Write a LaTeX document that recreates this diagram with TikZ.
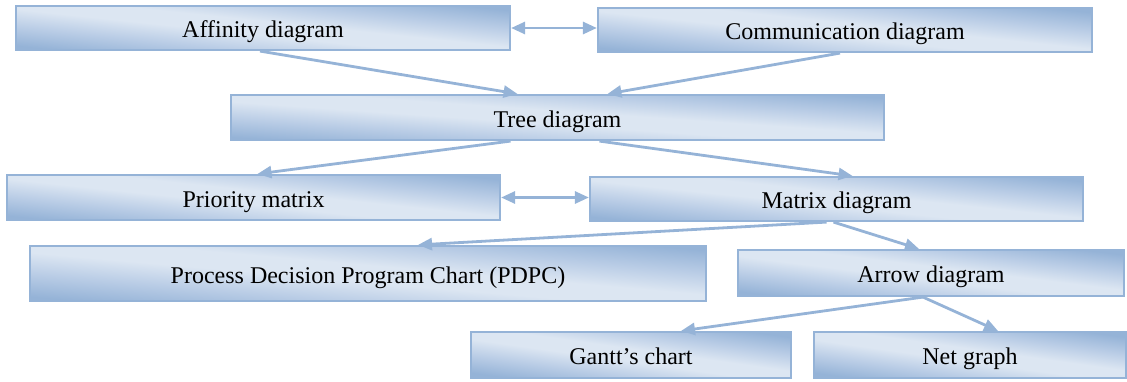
\documentclass[tikz,border=0pt]{standalone}
\usepackage{fontspec}
\setmainfont{Liberation Serif}
\usetikzlibrary{arrows.meta}
\definecolor{boxdark}{HTML}{95B3D7}
\definecolor{boxlight}{HTML}{DCE6F2}
\definecolor{boxmid}{HTML}{BACDE6}
\definecolor{linecol}{HTML}{95B3D7}
\pgfdeclareverticalshading{boxsh}{100bp}{color(0bp)=(boxdark); color(25bp)=(boxdark); color(36bp)=(boxmid); color(46bp)=(boxlight); color(54bp)=(boxlight); color(64bp)=(boxmid); color(75bp)=(boxdark); color(100bp)=(boxdark)}
\tikzset{
  box/.style={draw=linecol, line width=2.2pt, inner sep=0pt,
    shading=boxsh, shading angle=-6, text height=19pt, text depth=0pt,
    font=\fontsize{24}{28}\selectfont},
  conn/.style={draw=linecol, line width=2.8pt, -{Triangle[length=14pt,width=12pt]}},
  dconn/.style={draw=linecol, line width=2.8pt, {Triangle[length=14pt,width=12pt]}-{Triangle[length=14pt,width=12pt]}}
}
\begin{document}
\begin{tikzpicture}[x=1pt,y=-1pt]
\useasboundingbox (0,0) rectangle (1127,381);
\node[box, minimum width=494pt, minimum height=44pt] (aff) at (263,28) {Affinity diagram};
\node[box, minimum width=494pt, minimum height=44pt] (com) at (845,30) {Communication diagram};
\node[box, minimum width=653pt, minimum height=45pt, shading angle=-4] (tree) at (557.5,117.5) {Tree diagram};
\node[box, minimum width=493pt, minimum height=45pt] (pri) at (253.5,197.5) {Priority matrix};
\node[box, minimum width=493pt, minimum height=44pt] (mat) at (836.5,199) {Matrix diagram};
\node[box, minimum width=676pt, minimum height=55pt, shading angle=-5] (pdpc) at (368,273.5) {Process Decision Program Chart (PDPC)};
\node[box, minimum width=386pt, minimum height=46pt, shading angle=-7] (arr) at (931,273) {Arrow diagram};
\node[box, minimum width=320pt, minimum height=46pt, shading angle=-8] (gantt) at (631,355) {Gantt’s chart};
\node[box, minimum width=312pt, minimum height=46pt, shading angle=-8] (net) at (970,355) {Net graph};
\draw[dconn] (aff.east) -- (aff.east -| com.west);
\draw[dconn] (pri.east) -- (pri.east -| mat.west);
\draw[conn] ([xshift=-3pt]aff.south) -- ([xshift=-40pt]tree.north);
\draw[conn] ([xshift=-5pt]com.south) -- ([xshift=50pt]tree.north);
\draw[conn] ([xshift=-47pt]tree.south) -- ([xshift=4pt]pri.north);
\draw[conn] ([xshift=42pt]tree.south) -- ([xshift=16pt]mat.north);
\draw[conn] ([xshift=-10pt]mat.south) -- ([xshift=50pt]pdpc.north);
\draw[conn] ([xshift=-3pt]mat.south) -- ([xshift=-12pt]arr.north);
\draw[conn] ([xshift=-8pt]arr.south) -- ([xshift=50pt]gantt.north);
\draw[conn] ([xshift=-8pt]arr.south) -- ([xshift=28pt]net.north);
\end{tikzpicture}
\end{document}
